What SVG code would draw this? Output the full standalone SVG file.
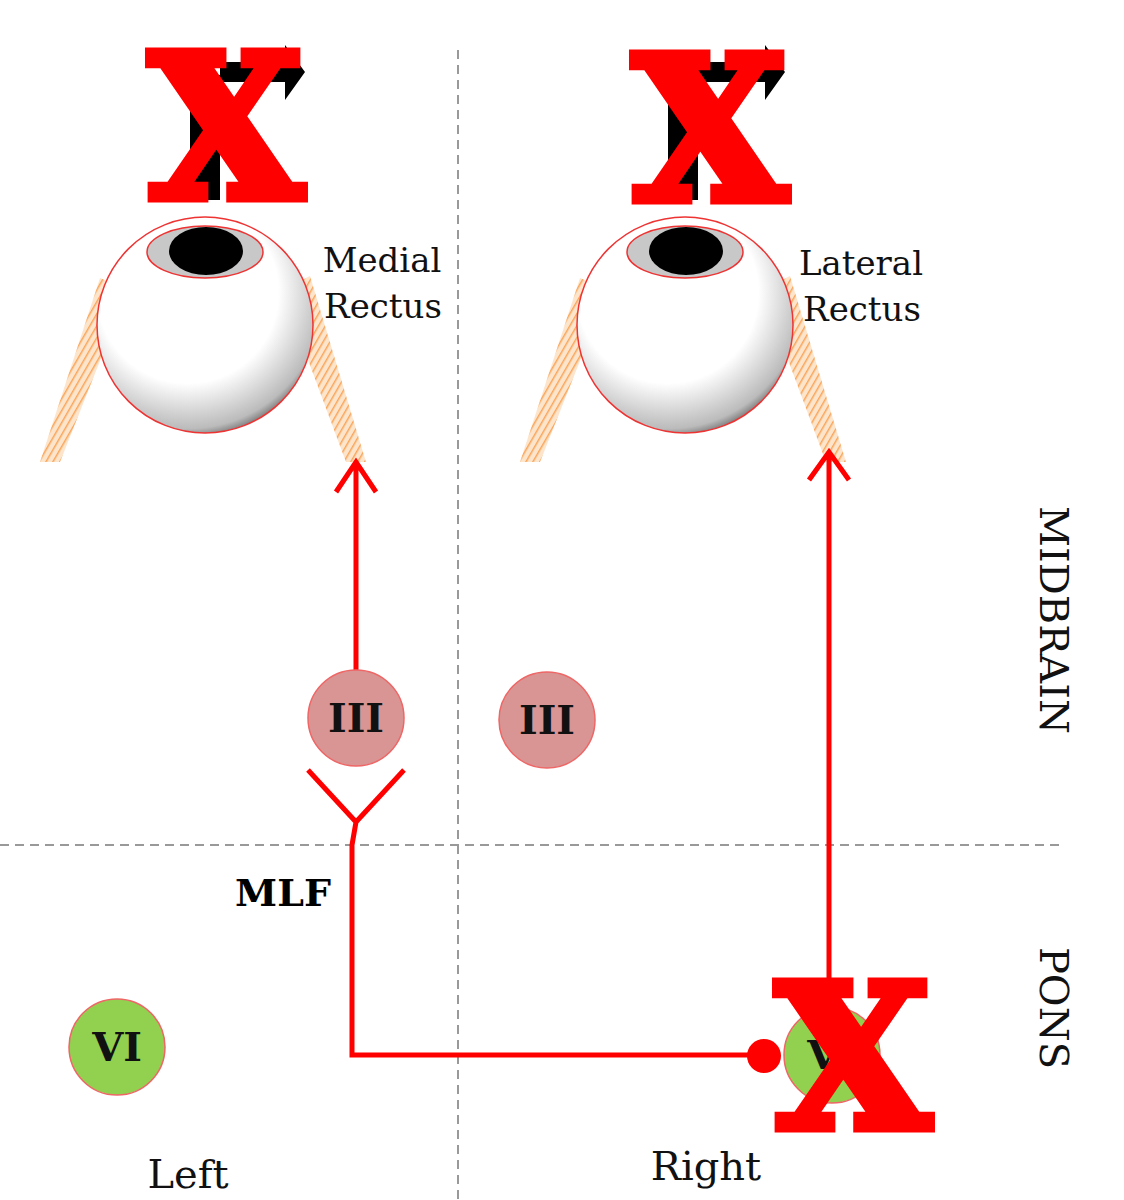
<svg xmlns="http://www.w3.org/2000/svg" width="1124" height="1200" viewBox="0 0 1124 1200">
<style>
.dash{stroke:#999;stroke-width:2;stroke-dasharray:9 6;fill:none}
.red{stroke:#f00;stroke-width:5;fill:none}
.x{font-family:"DejaVu Serif",serif;font-weight:bold;font-size:200px;fill:#f00;stroke:#f00;stroke-width:9;stroke-linejoin:miter;text-anchor:middle}
.lbl{font-family:"DejaVu Serif",serif;font-size:34px;fill:#111;text-anchor:middle}
.nuc{font-family:"DejaVu Serif",serif;font-weight:bold;font-size:40px;fill:#111;text-anchor:middle}
.side{font-family:"DejaVu Serif",serif;font-size:40px;fill:#111;text-anchor:middle}
.muscle{fill:url(#hatch);stroke:none}
</style>
<defs>
<radialGradient id="ball" cx="0.42" cy="0.35" r="0.7">
<stop offset="0.6" stop-color="#fff"/><stop offset="0.9" stop-color="#bbb"/><stop offset="1" stop-color="#555"/>
</radialGradient>
<pattern id="hatch" width="6" height="6" patternUnits="userSpaceOnUse" patternTransform="rotate(30)">
<rect width="6" height="6" fill="#fde5cc"/><line x1="0" y1="0" x2="0" y2="6" stroke="#f9a55a" stroke-width="3"/>
</pattern>
<g id="eyeShape">
<polygon class="muscle" points="40,462 100,278 128,290 60,462"/>
<polygon class="muscle" points="282,290 310,276 366,462 346,462"/>
<circle cx="205" cy="325" r="108" fill="url(#ball)" stroke="#e33" stroke-width="1.5"/>
<ellipse cx="205" cy="252" rx="58" ry="26" fill="#c8c8c8" stroke="#e33" stroke-width="1.5"/>
<ellipse cx="206" cy="251" rx="37" ry="24" fill="#000"/>
</g>
</defs>
<g id="grid">
<line class="dash" x1="458" y1="50" x2="458" y2="1200"/>
<line class="dash" x1="0" y1="845" x2="1065" y2="845"/>
</g>
<g id="leftEye"><use href="#eyeShape"/>
<rect x="190" y="75" width="30" height="125" fill="#000"/><polygon points="220,62 285,62 285,45 305,72 285,100 285,82 220,82" fill="#000"/>
<text class="x" x="226" y="198">X</text>
<text class="lbl" x="382" y="272">Medial</text><text class="lbl" x="383" y="318">Rectus</text>
</g>
<g id="rightEye"><use href="#eyeShape" x="480"/>
<rect x="668" y="75" width="30" height="125" fill="#000"/><polygon points="698,62 765,62 765,45 785,72 765,100 765,82 698,82" fill="#000"/>
<text class="x" x="710" y="200">X</text>
<text class="lbl" x="861" y="275">Lateral</text><text class="lbl" x="862" y="321">Rectus</text>
</g>
<g id="connectors">
<path class="red" d="M356,670 V462 M336,492 L356,462 L376,492"/>
<path class="red" d="M308,770 L356,822 L404,770 M356,822 L352,845 V1055 H762"/>
<circle cx="764" cy="1056" r="17" fill="#f00"/>
<path class="red" d="M829,990 V452 M809,480 L829,452 L849,480"/>
</g>
<g id="III-left"><circle cx="356" cy="718" r="48" fill="#d99594" stroke="#e66" stroke-width="1.5"/><text class="nuc" x="356" y="732">III</text></g>
<g id="III-right"><circle cx="547" cy="720" r="48" fill="#d99594" stroke="#e66" stroke-width="1.5"/><text class="nuc" x="547" y="734">III</text></g>
<g id="VI-left"><circle cx="117" cy="1047" r="48" fill="#92d050" stroke="#e66" stroke-width="1.5"/><text class="nuc" x="117" y="1061">VI</text></g>
<g id="VI-right"><circle cx="832" cy="1055" r="48" fill="#92d050" stroke="#e66" stroke-width="1.5"/><text class="nuc" x="832" y="1069">VI</text>
<text class="x" x="853" y="1128">X</text></g>
<g id="labels">
<text x="283" y="906" style="font-family:'DejaVu Serif',serif;font-weight:bold;font-size:38px;text-anchor:middle">MLF</text>
<text class="side" x="188" y="1188">Left</text>
<text class="side" x="706" y="1180">Right</text>
<text class="side" transform="translate(1040,620) rotate(90)">MIDBRAIN</text>
<text class="side" transform="translate(1040,1008) rotate(90)">PONS</text>
</g>
</svg>
